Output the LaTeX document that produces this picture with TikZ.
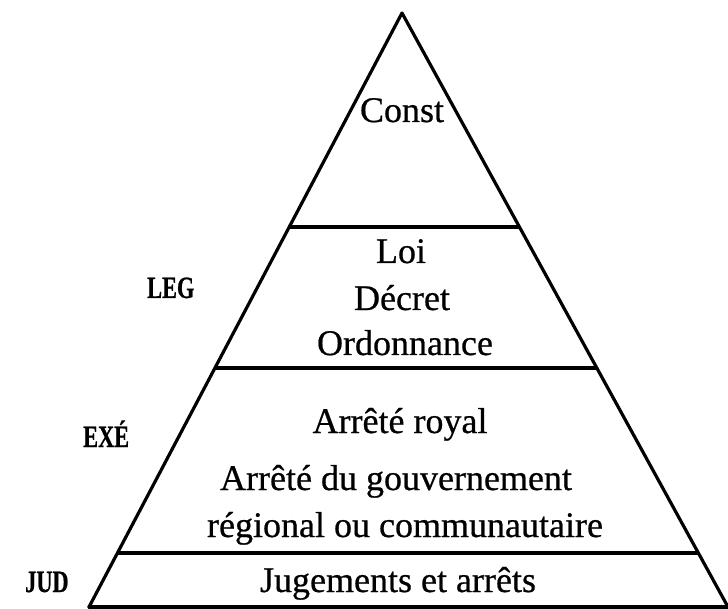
\documentclass[tikz,border=0pt]{standalone}
\usepackage{fontspec}
\setmainfont{Liberation Serif}
\newfontfamily\lvlfont{Liberation Serif}[FakeBold=0.6]
\newfontfamily\condbold{Liberation Serif Bold}[FakeStretch=0.72,FakeBold=0.6]
\usetikzlibrary{calc}
\begin{document}
\begin{tikzpicture}[x=1pt,y=-1pt,
  side/.style={line width=3.2pt,line cap=round,line join=round},
  levelline/.style={line width=4pt},
  lvl/.style={anchor=base,inner sep=0pt,font=\fontsize{36}{40}\lvlfont},
  tag/.style={anchor=base west,inner sep=0pt,font=\fontsize{31}{34}\condbold}]
\useasboundingbox[fill=white] (0,0) rectangle (728,609);
\coordinate (apex) at (402,13);
\coordinate (bl) at (89,607);
\coordinate (br) at (728,607);
\draw[side] (bl) -- (apex) -- (br);
\draw[side] (bl) -- (br);
\coordinate (l1) at ($(apex)!0.3603!(bl)$);
\coordinate (r1) at ($(apex)!0.3603!(br)$);
\coordinate (l2) at ($(apex)!0.5976!(bl)$);
\coordinate (r2) at ($(apex)!0.5976!(br)$);
\coordinate (l3) at ($(apex)!0.9091!(bl)$);
\coordinate (r3) at ($(apex)!0.9091!(br)$);
\draw[levelline] (l1) -- (r1);
\draw[levelline] (l2) -- (r2);
\draw[levelline] (l3) -- (r3);
\node[lvl] (const) at (402,122) {Const};
\node[lvl] (loi) at (401,263) {Loi};
\node[lvl] (decret) at (402,310) {Décret};
\node[lvl] (ordo) at (405,355) {Ordonnance};
\node[lvl] (aroyal) at (400,433) {Arrêté royal};
\node[lvl] (agouv) at (396,490) {Arrêté du gouvernement};
\node[lvl] (regio) at (405,537) {régional ou communautaire};
\node[lvl] (jug) at (398,592) {Jugements et arrêts};
\node[tag] (leg) at (147,298) {LEG};
\node[tag] (exe) at (83,447) {EXÉ};
\node[tag] (jud) at (25,592) {JUD};
\end{tikzpicture}
\end{document}
